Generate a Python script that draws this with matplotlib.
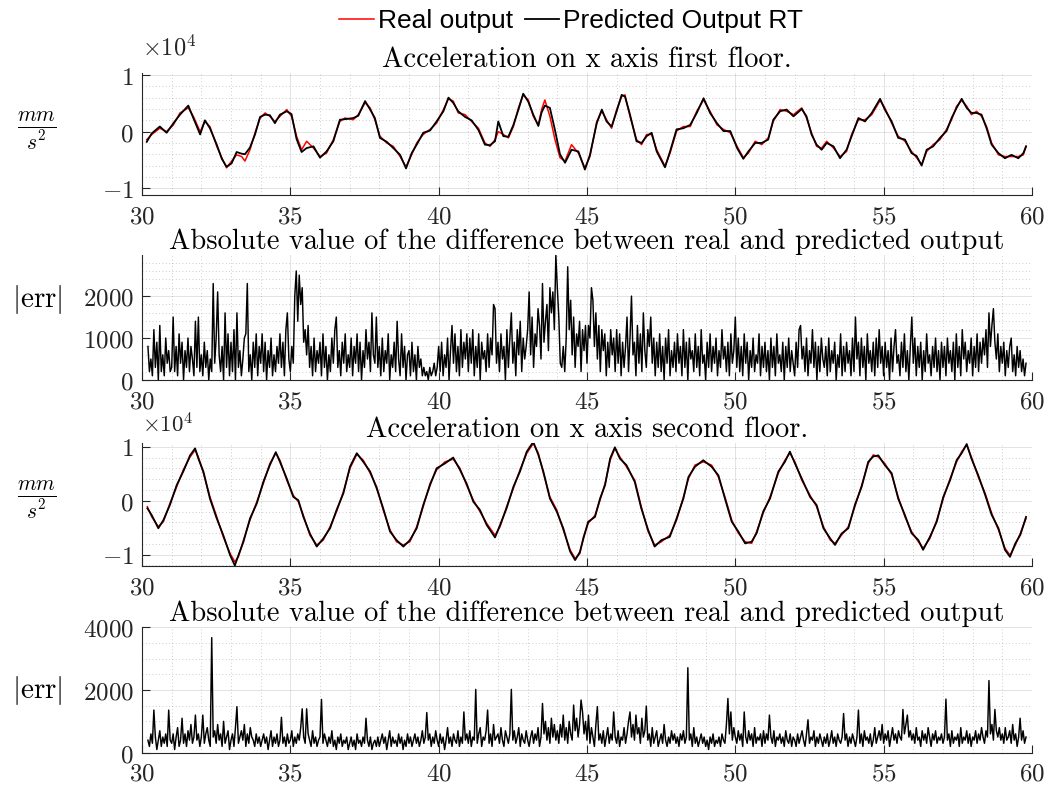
import numpy as np
import matplotlib
matplotlib.use('Agg')
import matplotlib.pyplot as plt
from matplotlib.ticker import MultipleLocator

plt.rcParams['mathtext.fontset'] = 'cm'

# ---------------- data (acceleration in thousands of mm/s^2) ----------------
t_floor1 = [30.16,30.33,30.6,30.83,31.06,31.28,31.56,31.73,31.96,32.12,
            32.29,32.52,32.69,32.85,33.02,33.19,33.36,33.47,33.64,33.81,
            33.98,34.15,34.31,34.48,34.65,34.88,35.04,35.21,35.38,35.55,
            35.78,36.0,36.22,36.45,36.67,36.84,37.12,37.29,37.52,37.69,
            37.85,38.02,38.25,38.47,38.7,38.9,39.09,39.26,39.48,39.71,
            39.93,40.16,40.33,40.49,40.66,40.89,41.11,41.34,41.56,41.73,
            41.9,42.01,42.18,42.35,42.52,42.69,42.85,43.02,43.19,43.36,
            43.47,43.58,43.75,43.92,44.09,44.26,44.48,44.71,44.93,45.1,
            45.33,45.5,45.66,45.83,46.0,46.17,46.28,46.45,46.67,46.84,
            47.01,47.18,47.35,47.63,47.8,48.02,48.25,48.48,48.7,48.93,
            49.15,49.38,49.6,49.83,50.06,50.27,50.44,50.67,50.89,51.11,
            51.28,51.51,51.73,51.96,52.24,52.4,52.57,52.74,52.91,53.08,
            53.31,53.53,53.75,53.92,54.15,54.37,54.6,54.88,55.04,55.27,
            55.49,55.72,55.94,56.11,56.28,56.45,56.67,56.9,57.12,57.29,
            57.46,57.63,57.8,57.96,58.13,58.3,58.47,58.64,58.87,59.09,
            59.31,59.54,59.71,59.8]
real_floor1 = [-1.4,-0.5,0.6,0.0,1.2,3.3,4.2,2.7,0.0,1.8,
               0.9,-2.6,-4.6,-6.4,-5.2,-4.1,-4.4,-5.2,-3.2,-0.2,
               2.4,3.3,2.7,1.8,2.7,3.9,2.7,-0.8,-3.2,-1.7,
               -2.9,-4.4,-3.8,-1.4,1.8,2.4,2.1,3.0,5.1,4.2,
               2.1,-0.8,-2.0,-2.6,-4.4,-6.2,-4.1,-2.0,-0.5,0.4,
               1.5,3.9,5.8,5.4,3.3,3.0,1.8,0.6,-2.0,-2.6,
               -1.4,0.0,-0.5,-1.1,0.9,4.2,6.5,5.6,2.7,1.2,
               3.9,5.6,2.7,-1.4,-4.6,-5.2,-2.3,-3.8,-6.4,-4.4,
               1.8,3.6,2.1,0.6,3.9,6.2,6.5,2.7,-1.4,-2.3,
               -0.5,-0.5,-3.2,-6.1,-3.8,0.1,0.9,0.9,3.6,5.6,
               3.6,1.2,0.4,-0.2,-2.6,-4.6,-3.8,-1.7,-2.3,-1.1,
               1.8,3.9,3.6,3.0,4.2,2.4,-0.2,-2.6,-2.9,-1.7,
               -2.9,-4.4,-3.5,-0.5,2.1,2.1,3.0,5.5,4.2,1.5,
               -0.8,-1.7,-3.5,-4.6,-5.8,-3.5,-2.3,-1.4,0.4,2.1,
               4.5,5.5,4.5,3.0,3.6,2.7,0.9,-2.0,-4.1,-4.4,
               -4.4,-4.4,-4.1,-2.6]
pred_floor1 = [-1.8,-0.3,0.9,-0.2,1.5,3.0,4.6,2.4,-0.5,2.0,
               0.6,-2.3,-4.8,-6.2,-5.6,-3.6,-3.9,-4.0,-2.8,-0.5,
               2.6,3.0,2.9,1.5,3.0,3.6,3.1,-1.3,-3.6,-2.9,
               -2.6,-4.6,-3.5,-1.7,2.1,2.2,2.4,2.8,5.4,3.9,
               2.4,-1.1,-1.8,-2.9,-4.1,-6.5,-3.8,-2.3,-0.2,0.2,
               1.8,3.6,6.0,5.1,3.6,2.6,2.0,0.3,-2.3,-2.4,
               -1.7,1.8,-0.8,-0.9,1.2,3.9,6.7,5.3,3.0,1.0,
               3.4,4.6,4.2,0.3,-4.0,-5.5,-3.2,-3.5,-6.7,-4.1,
               1.5,3.9,1.8,0.9,3.6,6.5,6.2,3.0,-1.7,-2.0,
               -0.8,-0.2,-3.5,-6.3,-3.5,0.4,0.6,1.2,3.3,5.9,
               3.3,1.5,0.1,0.1,-2.9,-4.8,-3.5,-2.0,-2.0,-1.4,
               2.1,3.6,3.9,2.7,4.0,2.7,-0.5,-2.3,-3.2,-2.0,
               -2.6,-4.7,-3.2,-0.8,2.4,1.8,3.3,5.8,3.9,1.8,
               -1.1,-1.4,-3.8,-4.3,-6.0,-3.2,-2.6,-1.1,0.1,2.4,
               4.2,5.8,4.2,3.3,3.3,3.0,0.6,-2.3,-3.8,-4.7,
               -4.1,-4.7,-3.8,-2.6]

t_floor2 = [30.18,30.33,30.55,30.72,30.94,31.17,31.39,31.62,31.79,31.9,
            32.07,32.29,32.52,32.74,32.97,33.13,33.25,33.42,33.64,33.87,
            34.09,34.31,34.51,34.65,34.88,35.1,35.27,35.44,35.66,35.89,
            36.11,36.34,36.56,36.79,37.01,37.24,37.46,37.69,37.91,38.13,
            38.36,38.58,38.81,39.03,39.26,39.48,39.71,39.93,40.21,40.49,
            40.72,40.94,41.17,41.39,41.62,41.9,42.07,42.29,42.52,42.74,
            42.97,43.19,43.36,43.53,43.75,43.98,44.2,44.43,44.6,44.76,
            44.88,45.04,45.27,45.44,45.61,45.78,45.94,46.11,46.33,46.61,
            46.83,47.06,47.28,47.51,47.79,48.02,48.25,48.42,48.64,48.92,
            49.2,49.43,49.65,49.88,50.1,50.33,50.55,50.72,50.94,51.17,
            51.45,51.67,51.84,52.01,52.24,52.52,52.74,52.97,53.2,53.36,
            53.58,53.81,54.03,54.26,54.48,54.65,54.82,55.04,55.27,55.49,
            55.72,55.94,56.17,56.33,56.56,56.79,57.01,57.24,57.46,57.63,
            57.8,57.96,58.19,58.42,58.64,58.87,59.09,59.26,59.44,59.61,
            59.8]
real_floor2 = [-1.1,-3.0,-4.8,-3.9,-0.5,2.6,5.7,8.1,9.4,8.1,
               5.1,0.7,-3.0,-6.7,-9.8,-11.3,-10.4,-7.3,-3.6,-0.2,
               3.2,6.9,8.8,7.5,3.8,1.0,-0.2,-2.7,-6.4,-8.2,
               -7.3,-4.8,-2.0,1.7,6.0,8.6,7.5,5.1,2.6,-1.7,
               -5.4,-7.6,-8.2,-7.6,-4.8,-1.1,3.2,5.7,7.2,7.7,
               6.0,2.9,0.1,-2.0,-4.2,-6.4,-4.8,-1.1,2.3,5.7,
               8.8,10.6,8.8,5.1,0.7,-1.7,-5.4,-9.1,-10.7,-9.8,
               -6.7,-4.2,-2.7,0.1,3.2,7.5,9.7,8.1,6.3,3.8,
               -1.1,-5.7,-8.2,-7.6,-6.4,-3.6,0.7,4.1,6.6,7.2,
               6.6,4.4,0.7,-3.6,-6.0,-7.6,-7.9,-5.7,-2.3,0.7,
               5.1,7.5,8.8,7.2,3.8,1.0,-1.1,-4.8,-7.3,-7.9,
               -6.4,-4.8,-1.1,2.9,6.9,8.5,8.1,6.9,4.8,0.7,
               -3.0,-5.7,-7.6,-8.8,-7.0,-3.6,0.4,4.1,7.2,9.1,
               10.3,8.1,4.4,1.4,-2.3,-5.4,-8.8,-10.1,-8.2,-6.0,
               -3.3]
pred_floor2 = [-1.4,-2.7,-5.1,-3.6,-0.8,2.9,5.4,8.4,9.7,7.8,
               5.4,0.4,-3.3,-6.4,-10.1,-12.0,-10.1,-7.6,-3.3,-0.5,
               3.5,6.6,9.0,7.2,4.1,0.7,0.1,-3.0,-6.1,-8.5,
               -7.0,-5.1,-1.7,1.4,6.3,8.8,7.2,5.4,2.3,-1.4,
               -5.7,-7.3,-8.5,-7.3,-5.1,-0.8,2.9,6.0,6.9,8.0,
               5.7,3.2,-0.2,-1.7,-4.5,-6.8,-4.5,-1.4,2.6,5.4,
               9.1,10.9,8.5,5.4,0.4,-2.0,-5.1,-9.4,-11.0,-9.5,
               -7.0,-3.9,-3.0,0.4,2.9,7.8,9.9,7.8,6.6,3.5,
               -1.4,-5.4,-8.5,-7.3,-6.7,-3.3,0.4,4.4,6.3,7.5,
               6.3,4.7,0.4,-3.9,-5.7,-7.9,-7.6,-6.0,-2.0,0.4,
               5.4,7.2,9.1,6.9,4.1,0.7,-0.8,-5.1,-7.0,-8.2,
               -6.1,-5.1,-0.8,2.6,7.2,8.2,8.4,6.6,5.1,0.4,
               -2.7,-6.0,-7.3,-9.1,-6.7,-3.9,0.7,3.8,7.5,8.8,
               10.5,7.8,4.7,1.1,-2.6,-5.1,-9.1,-10.4,-7.9,-6.3,
               -3.0]

# absolute errors, in hundreds, sampled every 0.05 s starting at t = 30.2 s
err_floor1 = [8,2,5,1,12,3,9,0,13,2,6,1,10,4,7,2,
    3,15,2,8,1,11,4,9,0,7,3,10,2,8,5,1,14,3,15,2,
    6,1,9,3,7,0,5,2,23,4,10,21,6,2,8,0,16,3,11,1,
    9,2,12,0,16,3,7,1,5,10,11,23,2,6,0,9,3,11,1,8,
    4,11,2,9,0,7,3,10,1,6,2,8,4,11,3,9,1,12,16,5,
    2,8,4,20,26,14,25,18,22,9,12,6,13,3,8,1,10,2,7,4,
    9,1,11,3,8,0,6,2,10,4,12,15,3,7,1,9,4,11,2,6,
    3,10,1,8,4,11,2,9,0,7,3,12,5,9,2,16,6,4,15,3,
    8,1,10,2,7,4,11,0,6,3,9,2,14,5,1,11,3,8,0,6,
    7,1,9,2,6,0,8,3,5,1,3,1,2,0,3,1,2,4,1,3,
    8,2,9,1,6,3,10,0,7,13,4,11,2,8,1,12,3,9,5,11,
    2,10,4,12,1,8,3,11,0,9,5,7,2,11,3,10,6,18,17,4,
    9,2,11,5,8,0,12,3,10,16,4,9,1,12,6,14,2,10,5,8,
    12,21,6,15,3,11,8,17,13,5,23,9,14,18,7,22,16,21,12,29.8,
    22,15,4,3,8,2,10,27,12,19,6,15,3,11,8,14,2,12,7,13,
    4,13,10,22,19,8,16,5,13,2,12,7,11,1,9,3,12,6,10,2,
    12,4,11,1,9,3,8,15,2,10,20,6,9,1,13,4,11,2,16,7,
    3,12,8,15,4,10,1,9,3,11,2,8,0,10,4,12,1,7,3,9,
    2,11,4,8,1,12,3,9,0,10,5,7,2,11,3,8,1,12,4,6,
    0,9,3,11,2,8,4,10,1,7,3,12,5,8,2,9,1,11,4,7,
    15,3,10,2,8,1,11,4,9,0,7,3,10,2,6,4,11,1,8,3,
    9,2,7,0,10,3,8,1,11,4,6,2,9,0,8,3,10,2,7,4,
    1,9,3,12,13,5,8,2,10,1,7,4,12,3,9,0,8,2,10,5,
    3,8,1,10,2,7,4,9,0,6,3,11,1,8,2,9,4,7,1,10,
    2,15,5,9,1,10,3,8,0,11,4,7,2,9,1,10,3,12,4,8,
    1,9,3,7,0,10,2,8,12,4,6,1,9,3,11,2,7,0,8,15,
    4,10,1,8,3,9,0,7,2,11,4,6,1,8,3,10,2,7,0,9,
    3,8,1,10,4,7,2,9,0,11,3,8,1,12,5,9,2,7,4,10,
    1,8,3,11,2,9,4,10,6,12,3,16,8,13,17,9,5,11,2,8,
    4,9,1,7,3,8,10,2,6,1,8,3,7,2,5,1,4]

err_floor2 = [4,2,6,3,13.6,5,1,4,7,2,5,3,6,2,13.6,4,
    3,6,1,5,8,2,4,11,3,6,2,7,4,9,3,5,12,4,6,2,
    5,12,3,6,8,4,2,36.7,5,7,3,9,4,6,2,10,3,5,7,1,
    4,6,2,8,14.7,3,5,7,4,9,2,6,3,8,5,4,2,6,3,5,
    2,4,6,3,5,1,4,7,2,5,3,6,2,4,11.3,3,5,2,6,3,
    4,7,2,5,3,6,4,8,14,5,3,14,6,4,2,7,3,5,2,4,
    5,17,3,6,4,2,5,3,7,2,4,1,5,3,6,2,4,3,5,1,
    3,5,2,4,1,6,3,4,2,5,3,11,4,2,5,1,3,4,2,5,
    2,4,6,3,5,1,4,7,2,5,3,4,2,6,3,5,1,4,2,6,
    3,5,2,4,6,3,5,2,4,7,3,5,12.8,4,6,2,5,3,7,4,
    2,6,3,5,1,4,8,3,5,2,6,4,3,7,2,5,3,13,4,6,
    3,7,2,5,4,20.2,3,6,8,2,5,4,7,13.6,3,6,2,9,4,5,
    6,3,8,4,2,7,5,3,6,20.2,4,7,3,5,8,2,6,4,3,7,
    4,2,5,7,3,6,4,8,2,5,15.7,6,10,4,8,3,11,5,9,4,
    7,3,9,5,12,4,8,3,10,6,4,15.2,7,11,5,9,16.8,13,6,10,
    4,12,3,8,5,2,9,14.7,4,6,3,7,2,5,8,3,6,4,13,5,
    3,7,2,5,4,8,3,6,10,13,5,9,4,12,6,8,3,11,5,7,
    14.9,4,6,2,8,3,5,7,2,4,6,3,9,4,2,5,3,7,4,6,
    3,5,2,6,4,7,3,5,27.1,4,6,2,8,3,5,2,4,6,3,5,
    2,4,1,5,3,6,2,4,3,5,2,6,4,3,9,17.3,6,13,4,8,
    5,3,7,4,6,2,13,5,3,7,4,6,2,8,3,5,4,6,2,7,
    3,6,4,12,5,3,7,2,5,4,6,3,5,2,7,4,3,6,2,5,
    4,2,6,3,5,7,4,2,6,10.5,3,5,4,7,2,5,3,6,4,2,
    5,3,6,2,4,7,3,5,2,6,4,3,5,12.5,4,6,2,5,3,6,
    4,2,5,13.6,3,6,2,7,4,5,3,6,2,4,8,3,5,7,4,9,
    3,6,4,7,2,5,8,4,6,3,7,5,4,13.8,6,9,12,5,7,4,
    6,3,8,4,5,2,7,4,6,3,8,5,2,6,4,7,3,5,4,6,
    3,5,17.1,4,6,2,7,3,5,4,6,2,8,3,5,4,7,3,6,2,
    5,4,7,3,6,4,8,5,3,7,5,23,6,9,4,13.8,7,5,8,4,
    6,3,8,4,5,7,3,9,4,6,2,5,11,4,7,3,5]

x_ticks = [30, 35, 40, 45, 50, 55, 60]
legend_labels = ['Real output', 'Predicted Output RT']
titles = ['Acceleration on x axis first floor.',
          'Absolute value of the difference between real and predicted output',
          'Acceleration on x axis second floor.',
          'Absolute value of the difference between real and predicted output']

assert len(t_floor1) == len(real_floor1) == len(pred_floor1)
assert len(t_floor2) == len(real_floor2) == len(pred_floor2)

# ---------------- figure ----------------
fig = plt.figure(figsize=(10.48, 7.88), dpi=100)
L, W = 0.1355, 0.8492
boxes = [(0.7525, 0.1548), (0.5178, 0.1586), (0.2817, 0.1565), (0.0448, 0.1591)]
axes = [fig.add_axes([L, b, W, h]) for b, h in boxes]
AX = '#262626'


def style(ax, ylim, yticks, ylabels, yminor):
    ax.set_xlim(30, 60)
    ax.set_ylim(*ylim)
    ax.set_xticks(x_ticks)
    ax.set_xticklabels(['$%d$' % v for v in x_ticks])
    ax.xaxis.set_minor_locator(MultipleLocator(1))
    ax.set_yticks(yticks)
    ax.set_yticklabels(ylabels)
    ax.yaxis.set_minor_locator(MultipleLocator(yminor))
    for s in ['top', 'right']:
        ax.spines[s].set_visible(False)
    for s in ['left', 'bottom']:
        ax.spines[s].set_color(AX)
        ax.spines[s].set_linewidth(0.8)
    ax.tick_params(which='major', direction='in', length=6, width=0.8,
                   color=AX, labelsize=18, labelcolor=AX)
    ax.tick_params(axis='x', which='major', pad=6.5)
    ax.tick_params(axis='y', which='major', pad=6)
    ax.tick_params(which='minor', length=0)
    ax.grid(which='major', color=AX, alpha=0.13, lw=0.7)
    ax.grid(which='minor', color=AX, alpha=0.3, lw=0.6, ls=(0, (1, 3)))
    ax.set_axisbelow(True)


# axis 1
ax = axes[0]
ln_r, = ax.plot(t_floor1, np.array(real_floor1) * 1000, color='#ff0000', lw=1.1)
ln_k, = ax.plot(t_floor1, np.array(pred_floor1) * 1000, color='k', lw=1.3)
style(ax, (-11200, 10350), [-10000, 0, 10000], ['$-1$', '$0$', '$1$'], 2000)

# axis 2
ax = axes[1]
t_e1 = 30.2 + 0.05 * np.arange(len(err_floor1))
ax.plot(t_e1, np.array(err_floor1) * 100, color='k', lw=1.05)
style(ax, (0, 2980), [0, 1000, 2000], ['$0$', '$1000$', '$2000$'], 200)

# axis 3
ax = axes[2]
ax.plot(t_floor2, np.array(real_floor2) * 1000, color='#ff0000', lw=1.1)
ax.plot(t_floor2, np.array(pred_floor2) * 1000, color='k', lw=1.3)
style(ax, (-12100, 10750), [-10000, 0, 10000], ['$-1$', '$0$', '$1$'], 2000)

# axis 4
ax = axes[3]
t_e2 = 30.2 + 0.05 * np.arange(len(err_floor2))
ax.plot(t_e2, np.array(err_floor2) * 100, color='k', lw=1.05)
style(ax, (0, 4000), [0, 2000, 4000], ['$0$', '$2000$', '$4000$'], 500)

for ax, ttl in zip(axes, titles):
    ax.set_title(ttl, fontfamily='cmr10', fontsize=20.5, pad=2, color='k')

axes[0].text(0.0, 1.105, r'$\times 10^{4}$', transform=axes[0].transAxes,
             fontsize=17.5, color=AX, ha='left', va='bottom')
axes[2].text(0.0, 1.045, r'$\times 10^{4}$', transform=axes[2].transAxes,
             fontsize=16.5, color=AX, ha='left', va='bottom')

ylab_pos = [0.525, 0.64, 0.54, 0.5]
ylab_txt = [r'$\frac{mm}{s^2}$', r'$|\mathrm{err}|$', r'$\frac{mm}{s^2}$', r'$|\mathrm{err}|$']
ylab_size = [22, 21, 22, 21]
for ax, yp, tx, fs in zip(axes, ylab_pos, ylab_txt, ylab_size):
    ax.set_ylabel(tx, rotation=0, fontsize=fs, color='k', ha='center', va='center')
    ax.yaxis.set_label_coords(-0.118, yp)

fig.legend([ln_r, ln_k], legend_labels, loc='center',
           bbox_to_anchor=(0.545, 1 - 21 / 788), ncol=2, frameon=False,
           prop={'family': 'Liberation Sans', 'size': 19},
           handlelength=1.3, handletextpad=0.15, columnspacing=0.45,
           borderaxespad=0, borderpad=0)

fig.savefig('out.png', dpi=100)
